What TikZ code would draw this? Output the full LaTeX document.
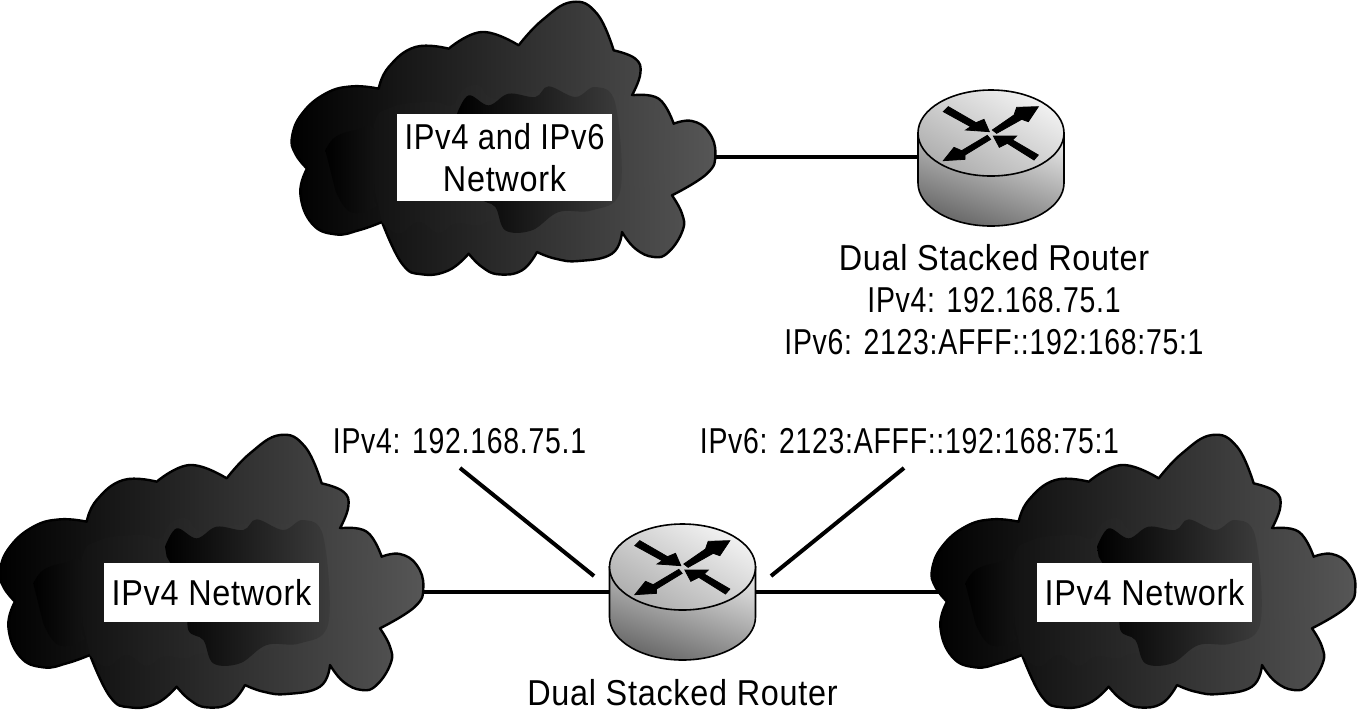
\documentclass[tikz,border=0pt]{standalone}
\usepackage{fontspec}
\setmainfont{Liberation Sans}
\newfontfamily\wordfont[FakeStretch=0.90,LetterSpace=2]{Liberation Sans}
\newfontfamily\midfont[FakeStretch=0.86,LetterSpace=2]{Liberation Sans}
\newfontfamily\numfont[FakeStretch=0.79,LetterSpace=2]{Liberation Sans}
\definecolor{cloudlo}{HTML}{000000}
\definecolor{cloudhi}{HTML}{565656}
\newcommand{\drawcloud}[2]{%
\begin{scope}[shift={(#1,#2)},x=0.33333pt,y=-0.33333pt]
 \path[left color=cloudlo,right color=cloudhi,draw=black,line width=2.4pt,line join=round]
  plot[smooth,tension=.75] coordinates {(680,205)(750,130)(840,75)(915,110)(965,220)}
  -- plot[smooth,tension=.75] coordinates {(965,220)(1030,245)(1045,290)(1020,355)}
  -- plot[smooth,tension=.75] coordinates {(1020,355)(1100,365)(1145,440)}
  -- plot[smooth,tension=.75] coordinates {(1145,440)(1200,432)(1250,465)(1270,530)(1245,590)(1140,655)}
  -- plot[smooth,tension=.75] coordinates {(1140,655)(1170,710)(1172,760)(1130,825)(1085,840)(1030,815)(990,765)}
  -- plot[smooth,tension=.75] coordinates {(990,765)(960,830)(860,852)(790,845)(735,825)}
  -- plot[smooth,tension=.75] coordinates {(735,825)(690,880)(620,892)(570,870)(530,830)}
  -- plot[smooth,tension=.75] coordinates {(530,830)(470,880)(390,892)(330,860)(270,735)}
  -- plot[smooth,tension=.75] coordinates {(270,735)(200,760)(130,772)(60,740)(25,650)(45,575)}
  -- plot[smooth,tension=.75] coordinates {(45,575)(10,530)(0,480)(30,410)(100,350)(180,328)(260,335)}
  -- plot[smooth,tension=.75] coordinates {(260,335)(290,270)(370,210)(470,215)}
  -- plot[smooth,tension=.75] coordinates {(470,215)(570,165)(680,205)} -- cycle;
 % lighter middle region
 \path[left color=black!93,right color=black!70]
  plot[smooth,tension=.7] coordinates {(250,650)(245,450)(300,390)(420,375)(480,385)(510,340)(560,325)(610,365)(760,340)(1020,358)(1090,400)(1125,570)(1060,630)(985,632)(800,720)(610,730)(560,745)(490,740)(440,768)(380,735)(320,770)(270,735)} -- cycle;
 % dark left lobe
 \path[left color=black,right color=black!92]
  plot[smooth,tension=.7] coordinates {(100,520)(130,480)(190,460)(250,465)(245,650)(250,690)(175,705)(130,640)} -- cycle;
 % dark centre
 \path[left color=black,right color=black!76]
  plot[smooth,tension=.6] coordinates {(495,410)(530,355)(590,385)(650,350)(730,360)(770,328)(850,360)(910,330)(970,380)(985,640)(900,700)(800,705)(720,760)(640,760)(610,690)(565,660)(560,560)(500,440)} -- cycle;
\end{scope}}
\tikzset{arrowfill/.style={fill=black,draw=black,line width=.8pt,line join=miter}}
\newcommand{\drawrouter}[2]{%
\begin{scope}[shift={(#1,#2)}]
 \path[left color=black!12,right color=black!60,shading angle=-20,draw=black,line width=1.6pt]
   (-73,0) -- (-73,50) arc[start angle=180,end angle=360,x radius=73pt,y radius=43pt] -- (73,0) -- cycle;
 \path[left color=black!5,right color=black!32,shading angle=-30,draw=black,line width=1.6pt]
   (0,0) ellipse[x radius=73pt,y radius=43pt];
 \begin{scope}[shift={(-91,-43)},x=0.33333pt,y=-0.33333pt]
  \path[arrowfill] (145,50)--(228,98)--(252,88)--(268,125)--(197,120)--(212,110)--(130,65)--cycle;
  \path[arrowfill] (277,120)--(342,75)--(350,52)--(415,50)--(385,95)--(365,88)--(290,130)--cycle;
  \path[arrowfill] (262,136)--(185,182)--(162,172)--(130,212)--(195,208)--(195,195)--(272,148)--cycle;
  \path[arrowfill] (415,195)--(338,150)--(350,138)--(280,138)--(298,172)--(322,160)--(402,210)--cycle;
 \end{scope}
\end{scope}}
\tikzset{
 link/.style={draw=black,line width=4pt},
 txt/.style={font=\fontsize{36}{42}\selectfont,inner sep=0pt,align=center},
 netbox/.style={fill=white,inner sep=0pt,align=center,font=\fontsize{36}{42}\selectfont},
}
\begin{document}
\begin{tikzpicture}[x=1pt,y=-1pt]
\useasboundingbox (0,0) rectangle (1357,716);
\fill[white] (0,0) rectangle (1357,716);
% anchor points of the connectors
\coordinate (topcloudE) at (714,157);
\coordinate (toprouterW) at (919,157);
\coordinate (leftcloudE) at (422,592);
\coordinate (rrouterW) at (611,592);
\coordinate (rrouterE) at (754,592);
\coordinate (rightcloudW) at (945,592);
\coordinate (lbl4) at (460,468);
\coordinate (lbl4end) at (594,576);
\coordinate (lbl6) at (904,468);
\coordinate (lbl6end) at (771,576);
\draw[link] (topcloudE) -- (toprouterW);
\draw[link] (leftcloudE) -- (rrouterW);
\draw[link] (rrouterE) -- (rightcloudW);
\draw[link] (lbl4) -- (lbl4end);
\draw[link] (lbl6) -- (lbl6end);
\drawcloud{292}{-23}
\drawcloud{0}{410}
\drawcloud{932}{410}
\drawrouter{991}{133}
\drawrouter{682.5}{567}
\node[netbox,minimum width=215pt,minimum height=87pt] (topbox) at (504.5,157.5) {\midfont IPv4 and IPv6\\\wordfont Network};
\node[netbox,minimum width=215pt,minimum height=59pt] (leftbox) at (211.5,592.5) {\wordfont IPv4 Network};
\node[netbox,minimum width=215pt,minimum height=59pt] (rightbox) at (1144.5,592.5) {\wordfont IPv4 Network};
\node[txt,anchor=north] (routerinfo) at (994,244) {\wordfont Dual Stacked Router\\\numfont IPv4: 192.168.75.1\\\numfont IPv6: 2123:AFFF::192:168:75:1};
\node[txt,anchor=base] (iplabel4) at (459.5,453) {\numfont IPv4: 192.168.75.1};
\node[txt,anchor=base] (iplabel6) at (909.5,453) {\numfont IPv6: 2123:AFFF::192:168:75:1};
\node[txt,anchor=base] (routerlabel) at (682.5,705) {\wordfont Dual Stacked Router};
\end{tikzpicture}
\end{document}
